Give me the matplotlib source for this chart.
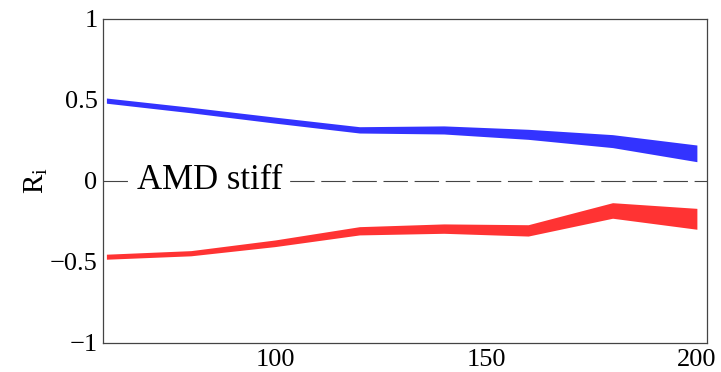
import matplotlib
matplotlib.use("Agg")
import matplotlib.pyplot as plt

# ── Data ──────────────────────────────────────────────────────────────────────
x_vals     = [60, 80, 100, 120, 140, 160, 180, 200]
blue_upper = [0.512, 0.455, 0.394, 0.335, 0.340, 0.319, 0.286, 0.222]
blue_lower = [0.480, 0.421, 0.357, 0.296, 0.290, 0.257, 0.206, 0.119]
red_upper  = [-0.452, -0.430, -0.364, -0.282, -0.265, -0.270, -0.134, -0.169]
red_lower  = [-0.483, -0.462, -0.405, -0.333, -0.323, -0.340, -0.230, -0.298]
y_ticks    = [-1, -0.5, 0, 0.5, 1]
y_labels   = ["\u22121", "\u22120.5", "0", "0.5", "1"]
x_ticks    = [100, 150, 200]

plt.rcParams["font.family"] = ["Liberation Serif", "DejaVu Serif"]

fig = plt.figure(figsize=(7.21, 3.72), dpi=100)
ax = fig.add_axes([0.1429, 0.078, 0.9806 - 0.1429, 0.949 - 0.078])

ax.fill_between(x_vals, blue_lower, blue_upper, color="#3333ff", lw=0)
ax.fill_between(x_vals, red_lower, red_upper, color="#ff3333", lw=0)

# dashed zero line with the label sitting on it
ax.axhline(0, color="#444444", lw=0.8, dashes=(22, 6), zorder=1)
ax.text(84.6, 0, "AMD stiff", fontsize=25, ha="center", va="center",
        bbox=dict(facecolor="white", edgecolor="none", pad=5), zorder=2)

ax.set_xlim(59.2, 202.4)
ax.set_ylim(-1, 1)
ax.set_yticks(y_ticks)
ax.set_yticklabels(y_labels)
ax.set_xticks(x_ticks)
ax.tick_params(length=0, labelsize=19)
ax.tick_params(axis="y", pad=4)
ax.tick_params(axis="x", pad=4)
ax.set_ylabel(r"R$_\mathregular{i}$", fontsize=21)
ax.yaxis.set_label_coords(-0.088, 0.5)

for s in ax.spines.values():
    s.set_color("#444444")
    s.set_linewidth(0.9)

fig.savefig("out.png", dpi=100)
